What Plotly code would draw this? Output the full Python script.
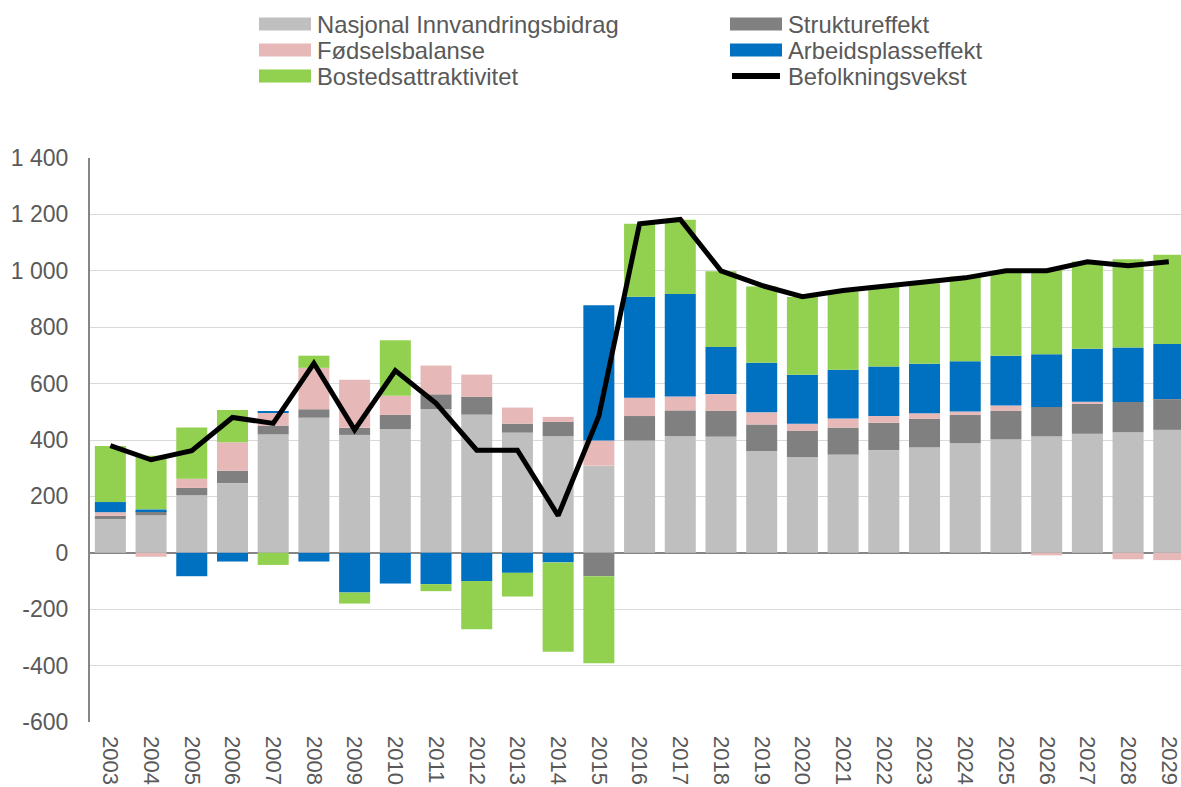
import plotly.graph_objects as go

years = [str(y) for y in range(2003, 2030)]

nasjonal = [120, 133, 204, 247, 420, 479, 418, 439, 510, 490, 426, 414, 309,
            398, 414, 412, 361, 339, 348, 364, 374, 388, 402, 413, 422, 428, 436]
struktur = [11, 15, 26, 44, 31, 30, 25, 50, 52, 63, 32, 50, -83,
            87, 91, 91, 94, 93, 96, 97, 101, 101, 101, 104, 106, 107, 109]
fodsel = [13, -14, 33, 101, 46, 147, 171, 68, 102, 79, 57, 18, 89,
          65, 49, 60, 43, 26, 32, 24, 20, 12, 19, -9, 8, -23, -26]
arbeid = [36, 6, -83, -31, 3, -31, -141, -109, -111, -100, -71, -34, 480,
          358, 364, 167, 176, 173, 173, 176, 175, 178, 177, 187, 188, 193, 195]
bosted = [199, 190, 181, 114, -43, 43, -39, 197, -25, -171, -84, -317, -309,
          259, 263, 268, 270, 276, 278, 284, 286, 301, 299, 301, 309, 313, 317]
befolkning = [380, 330, 362, 480, 459, 672, 436, 646, 530, 364, 364, 132, 485,
              1167, 1182, 1000, 948, 908, 930, 944, 960, 975, 1000, 1000, 1032, 1018, 1032]

y_tickvals = [-600, -400, -200, 0, 200, 400, 600, 800, 1000, 1200, 1400]
y_ticktext = ["-600", "-400", "-200", "0", "200", "400", "600", "800", "1 000", "1 200", "1 400"]

bar_series = [
    ("Nasjonal Innvandringsbidrag", nasjonal, "#BFBFBF"),
    ("Struktureffekt", struktur, "#808080"),
    ("Fødselsbalanse", fodsel, "#E6B9B8"),
    ("Arbeidsplasseffekt", arbeid, "#0070C0"),
    ("Bostedsattraktivitet", bosted, "#92D050"),
]
line_name = "Befolkningsvekst"

FONT = "Liberation Sans, Arial, sans-serif"
TXT = "#595959"
W, H = 1181, 787
ML, MR, MT, MB = 90, 0, 158, 65
PW, PH = W - ML - MR, H - MT - MB

fig = go.Figure()
for name, vals, col in bar_series:
    fig.add_trace(go.Bar(x=years, y=vals, name=name, marker=dict(color=col, line=dict(width=0)),
                         showlegend=False))
fig.add_trace(go.Scatter(x=years, y=befolkning, name=line_name, mode="lines",
                         line=dict(color="black", width=5), showlegend=False))

# manual legend (pixel layout converted to paper coords)
def px(xp):
    return (xp - ML) / PW

def py(yp):
    return (H - MB - yp) / PH

legend_items = [
    (bar_series[0][0], bar_series[0][2], "box", 0, 0),
    (bar_series[1][0], bar_series[1][2], "box", 1, 0),
    (bar_series[2][0], bar_series[2][2], "box", 0, 1),
    (bar_series[3][0], bar_series[3][2], "box", 1, 1),
    (bar_series[4][0], bar_series[4][2], "box", 0, 2),
    (line_name, "black", "line", 1, 2),
]
col_x = [259, 730]
row_y = [24, 50, 76]
sym_w, sym_h = 52, 13
shapes = []
annotations = []
for name, col, kind, c, r in legend_items:
    x0 = col_x[c]
    yc = row_y[r]
    if kind == "box":
        shapes.append(dict(type="rect", xref="paper", yref="paper",
                           x0=px(x0), x1=px(x0 + sym_w), y0=py(yc + sym_h / 2), y1=py(yc - sym_h / 2),
                           fillcolor=col, line=dict(width=0)))
    else:
        shapes.append(dict(type="line", xref="paper", yref="paper",
                           x0=px(x0 + 2), x1=px(x0 + sym_w - 2), y0=py(yc), y1=py(yc),
                           line=dict(color=col, width=6)))
    annotations.append(dict(text=name, xref="paper", yref="paper", x=px(x0 + sym_w + 4), y=py(yc),
                            xanchor="left", yanchor="middle", showarrow=False,
                            font=dict(family=FONT, size=23.8, color=TXT)))

fig.update_layout(
    width=W, height=H,
    margin=dict(l=ML, r=MR, t=MT, b=MB, pad=0),
    paper_bgcolor="white", plot_bgcolor="white",
    barmode="relative", bargap=0.238,
    shapes=shapes, annotations=annotations,
    font=dict(family=FONT, size=22, color=TXT),
    xaxis=dict(type="category", range=[-0.5, 26.3], tickangle=90, showgrid=False,
               showline=False, ticks="", tickfont=dict(family=FONT, size=22, color=TXT),
               ticklabelstandoff=13),
    yaxis=dict(range=[-600, 1400], tickvals=y_tickvals, ticktext=y_ticktext,
               showgrid=True, gridcolor="#D9D9D9", gridwidth=1.3,
               zeroline=True, zerolinecolor="#868686", zerolinewidth=2,
               showline=True, linecolor="#868686", linewidth=2, ticks="",
               ticklabelstandoff=15, tickfont=dict(family=FONT, size=23, color=TXT)),
)

fig.write_html("out.html", config={"displayModeBar": False},
               post_script="document.body.style.margin='0';document.body.style.overflow='hidden';")
